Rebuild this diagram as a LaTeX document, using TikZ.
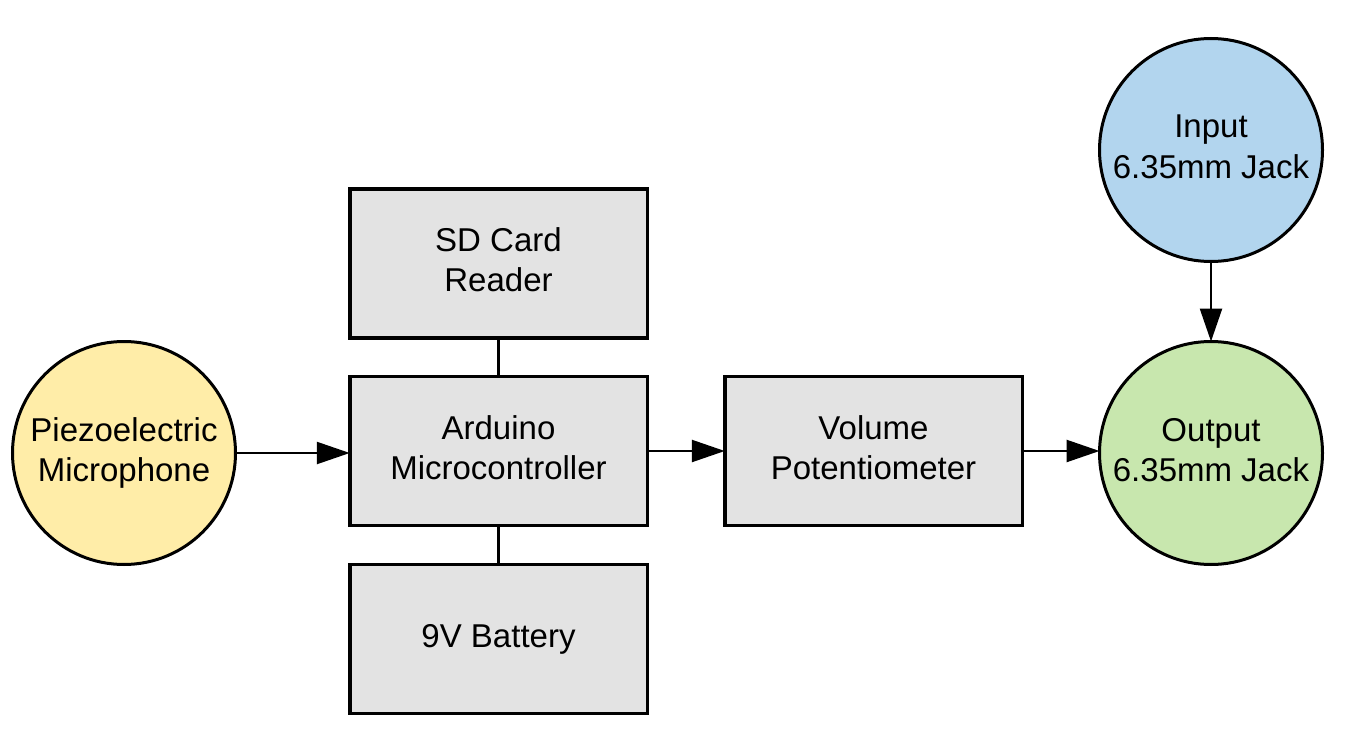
\documentclass[tikz,border=0pt]{standalone}
\usepackage{fontspec}
\setmainfont{Liberation Sans}
\usetikzlibrary{arrows.meta}
\definecolor{fyellow}{HTML}{FFEDA8}
\definecolor{fblue}{HTML}{B2D5EE}
\definecolor{fgreen}{HTML}{C8E7AE}
\definecolor{fgray}{HTML}{E3E3E3}
\newcommand\twolines[2]{\raisebox{4pt}{\begin{tabular}[b]{@{}c@{}}#1\\#2\end{tabular}}}
\newcommand\oneline[1]{\raisebox{1pt}{\begin{tabular}[b]{@{}c@{}}#1\end{tabular}}}
\begin{document}
\begin{tikzpicture}[x=1pt,y=-1pt,
  every node/.style={font=\fontsize{33}{40}\selectfont, inner sep=0pt, outer sep=0pt},
  blockbox/.style={draw=black, line width=3.5pt, fill=fgray, minimum width=297.5pt, minimum height=149pt},
  roundnode/.style={circle, draw=black, line width=3pt, minimum size=223pt},
  conn/.style={line width=2.5pt, draw=black},
  arr/.style={conn, -{Triangle[length=33pt,width=22pt]}}]
\useasboundingbox (0,0) rectangle (1349,749);
\fill[white] (0,0) rectangle (1349,749);
\node[roundnode, fill=fyellow] (mic) at (124,453) {\twolines{Piezoelectric}{Microphone}};
\node[blockbox] (sd) at (498.5,263.5) {\twolines{SD Card}{Reader}};
\node[blockbox] (ard) at (498.5,451) {\twolines{Arduino}{Microcontroller}};
\node[blockbox] (bat) at (498.5,639) {\oneline{9V Battery}};
\node[blockbox] (vol) at (873.5,451) {\twolines{Volume}{Potentiometer}};
\node[roundnode, fill=fblue] (in) at (1211,150) {\twolines{Input}{6.35mm Jack}};
\node[roundnode, fill=fgreen] (out) at (1211,453) {\twolines{Output}{6.35mm Jack}};
\draw[arr] (mic.east) -- (mic.east -| ard.west);
\draw[arr] (ard.east) -- (vol.west);
\draw[arr] (vol.east) -- (vol.east -| out.west);
\draw[arr] (in.south) -- (out.north);
\draw[conn] (sd.south) -- (ard.north);
\draw[conn] (ard.south) -- (bat.north);
\end{tikzpicture}
\end{document}
